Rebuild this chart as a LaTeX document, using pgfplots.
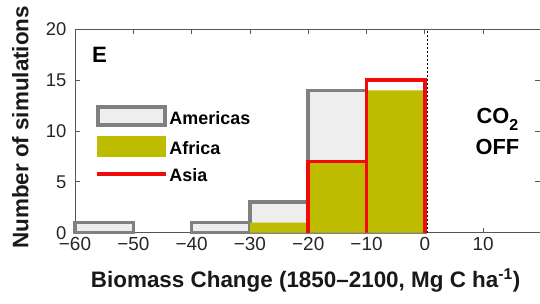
\documentclass[border=0pt]{standalone}
\usepackage{fontspec}
\setmainfont{Liberation Sans}
\usepackage{pgfplots}
\pgfplotsset{compat=1.18}
\definecolor{amedge}{RGB}{128,128,128}
\definecolor{amfill}{RGB}{238,238,238}
\definecolor{afr}{RGB}{190,188,0}
\definecolor{asia}{RGB}{240,10,10}
\definecolor{axgray}{RGB}{85,85,85}
\begin{document}
\begin{tikzpicture}
\begin{axis}[
  scale only axis, width=465bp, height=203.4bp,
  xmin=-60, xmax=19.75, ymin=0, ymax=20,
  xtick={-60,-50,-40,-30,-20,-10,0,10},
  xticklabels={−60,−50,−40,−30,−20,−10,0,10},
  ytick={0,5,10,15,20},
  /pgf/number format/assume math mode=true,
  tick align=inside, major tick length=5bp,
  axis line style={axgray, line width=0.8bp},
  tick style={axgray, line width=0.8bp},
  ticklabel style={text=black!85},
  xticklabel style={font=\fontsize{19}{19}\selectfont, yshift=-1bp},
  yticklabel style={font=\fontsize{18.5}{18.5}\selectfont, xshift=-5bp},
  xlabel={Biomass Change (1850–2100, Mg C ha\textsuperscript{-1})},
  ylabel={Number of simulations},
  label style={font=\bfseries\fontsize{22.5}{22.5}\selectfont, text=black!90},
  xlabel style={at={(axis description cs:0.496,-0.268)}, anchor=base},
  ylabel style={at={(axis description cs:-0.1004,0.518)}, anchor=base, rotate=0},
  clip=false,
  legend style={at={(axis description cs:0.043,0.629)}, anchor=north west, draw=none, fill=none,
    font=\bfseries\fontsize{18}{18}\selectfont, row sep=8bp, inner sep=0pt, nodes={inner sep=2bp}},
  legend cell align=left,
]
% Americas
\addplot[ybar interval, draw=amedge, fill=amfill, line width=3.6bp, forget plot] coordinates {(-60,1) (-50,1)};
\addplot[ybar interval, draw=amedge, fill=amfill, line width=3.6bp, forget plot] coordinates {(-40,1) (-30,3) (-20,14) (-10,3) (0,3)};
% Africa
\addplot[ybar interval, draw=none, fill=afr, forget plot] coordinates {(-30,1) (-20,7) (-10,14) (0,14)};
% Asia
\addplot[asia, line width=3.8bp, line join=miter, forget plot] coordinates {(-20,0) (-20,7) (-10,7) (-10,0) (-10,15) (0,15) (0,0)};
% zero line
\addplot[black, line width=0.8bp, dash pattern=on 2bp off 2bp, forget plot] coordinates {(0.4,0) (0.4,20)};

\addlegendimage{legend image code/.code={\draw[draw=amedge, line width=3.6bp, fill=amfill] (0bp,-6bp) rectangle (67bp,12bp);}}
\addlegendentry{Americas}
\addlegendimage{legend image code/.code={\fill[afr] (-1bp,-7bp) rectangle (67.5bp,13bp);}}
\addlegendentry{Africa}
\addlegendimage{legend image code/.code={\draw[asia, line width=3.8bp] (-1bp,2bp) -- (67.5bp,2bp);}}
\addlegendentry{Asia}

\node[anchor=north west, font=\bfseries\fontsize{22.3}{22.3}\selectfont, inner sep=0pt] at (axis cs:-57.1,18.29) {E};
\node[anchor=base, font=\bfseries\fontsize{21.9}{21.9}\selectfont, inner sep=0pt] at (axis cs:12.45,10.69) {CO\raisebox{-7bp}{\fontsize{16}{16}\selectfont 2}};
\node[anchor=base, font=\bfseries\fontsize{21.9}{21.9}\selectfont, inner sep=0pt] at (axis cs:12.45,7.64) {OFF};
\end{axis}
\pgfresetboundingbox
\path (current axis.south west) ++(-75bp,-71.3bp) coordinate (bbA);
\path (current axis.north east) ++(0bp,29.3bp) coordinate (bbB);
\useasboundingbox (bbA) rectangle (bbB);
\end{tikzpicture}
\end{document}
